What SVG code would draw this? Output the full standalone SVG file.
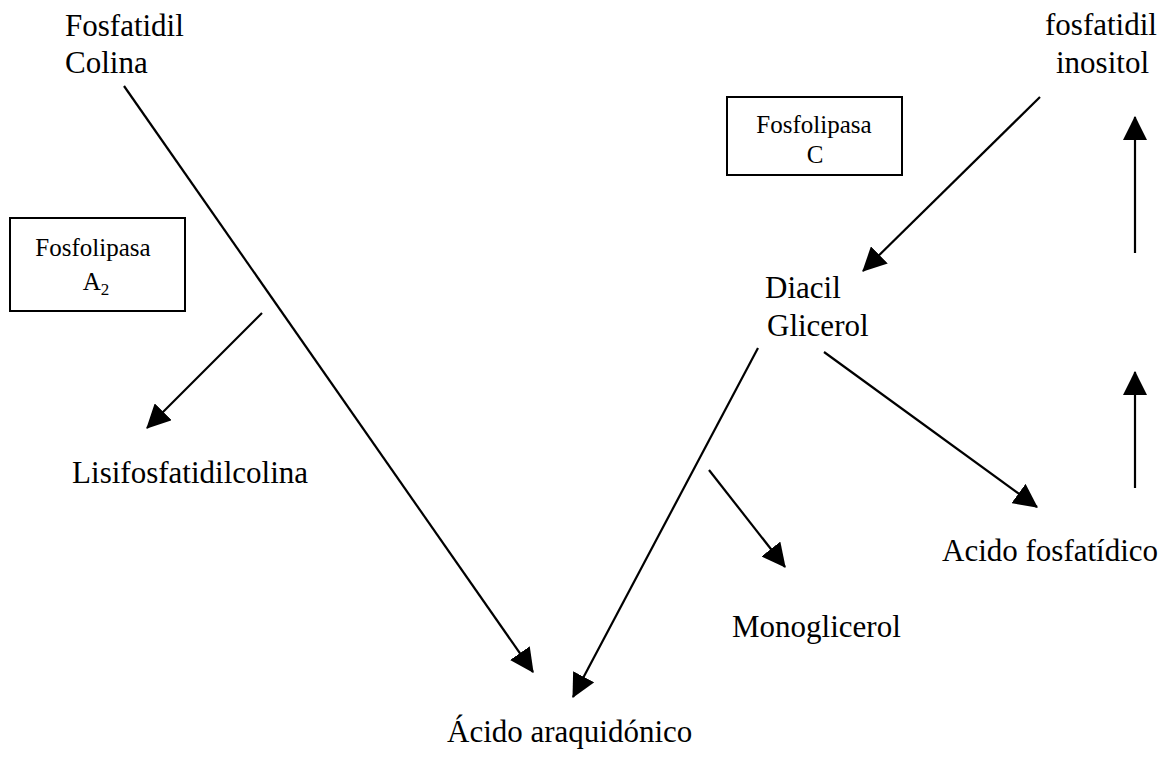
<svg xmlns="http://www.w3.org/2000/svg" width="1173" height="759" viewBox="0 0 1173 759">
<style>
.lbl{font-family:"Liberation Serif","Times New Roman",serif;font-size:31px;fill:#000}
.sm{font-family:"Liberation Serif","Times New Roman",serif;font-size:25px;fill:#000;text-anchor:middle}
.box{fill:none;stroke:#000;stroke-width:2}
.arr{stroke:#000;stroke-width:2.2;fill:none;marker-end:url(#ah)}
</style>
<defs>
<marker id="ah" markerUnits="userSpaceOnUse" markerWidth="24" markerHeight="24" viewBox="0 0 22 22" refX="21" refY="11" orient="auto">
<path d="M0,0 L22,11 L0,22 z" fill="#000"/>
</marker>
</defs>
<rect width="1173" height="759" fill="#fff"/>
<g id="fosfatidilcolina"><text class="lbl" x="65" y="36">Fosfatidil</text><text class="lbl" x="65" y="73">Colina</text></g>
<g id="fosfatidilinositol"><text class="lbl" x="1045" y="35">fosfatidil</text><text class="lbl" x="1056" y="73">inositol</text></g>
<g id="fosfolipasaA2"><rect class="box" x="10" y="218" width="175" height="93"/><text class="sm" x="93" y="256">Fosfolipasa</text><text class="sm" x="96" y="290">A<tspan font-size="17" dy="5">2</tspan></text></g>
<g id="fosfolipasaC"><rect class="box" x="727" y="97" width="175" height="78"/><text class="sm" x="814" y="133">Fosfolipasa</text><text class="sm" x="815" y="163">C</text></g>
<g id="diacilglicerol"><text class="lbl" x="765" y="298">Diacil</text><text class="lbl" x="767" y="336">Glicerol</text></g>
<g id="lisifosfatidilcolina"><text class="lbl" x="308" y="483" text-anchor="end">Lisifosfatidilcolina</text></g>
<g id="acidoaraquidonico"><text class="lbl" x="447" y="742">Ácido araquidónico</text></g>
<g id="monoglicerol"><text class="lbl" x="732" y="637">Monoglicerol</text></g>
<g id="acidofosfatidico"><text class="lbl" x="942" y="561">Acido fosfatídico</text></g>
<g id="connectors">
<line class="arr" x1="124" y1="86" x2="533" y2="672"/>
<line class="arr" x1="262" y1="313" x2="147" y2="428"/>
<line class="arr" x1="758" y1="348" x2="573" y2="697"/>
<line class="arr" x1="1040" y1="97" x2="863" y2="271"/>
<line class="arr" x1="824" y1="352" x2="1037" y2="507"/>
<line class="arr" x1="709" y1="470" x2="785" y2="567"/>
<line class="arr" x1="1135" y1="253" x2="1135" y2="117"/>
<line class="arr" x1="1135" y1="488" x2="1135" y2="372"/>
</g>
</svg>
